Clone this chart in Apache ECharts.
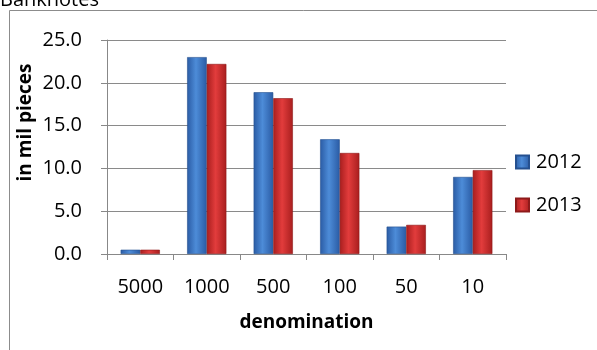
<!DOCTYPE html>
<html>
<head>
<meta charset="utf-8">
<script src="https://cdn.jsdelivr.net/npm/echarts@6/dist/echarts.min.js"></script>
<style>
  html, body { margin: 0; padding: 0; background: #fff; }
  #chart { width: 597px; height: 350px; }
</style>
</head>
<body>
<div id="chart"></div>
<script>
// Banknotes in circulation by denomination (million pieces)
const denominations = ['5000', '1000', '500', '100', '50', '10'];
const pieces2012 = [0.5, 23.0, 18.9, 13.4, 3.2, 9.0];
const pieces2013 = [0.5, 22.2, 18.2, 11.8, 3.4, 9.8];
const seriesNames = ['2012', '2013'];

const FONT = '"Open Sans", "Noto Sans", sans-serif';

function barGradient(edge, mid) {
  return new echarts.graphic.LinearGradient(0, 0, 1, 0, [
    { offset: 0, color: edge },
    { offset: 0.45, color: mid },
    { offset: 1, color: edge }
  ]);
}

const chart = echarts.init(document.getElementById('chart'), null, { renderer: 'canvas' });

chart.setOption({
  animation: false,
  backgroundColor: '#fff',
  textStyle: { fontFamily: FONT },
  graphic: [
    {
      type: 'rect',
      shape: { x: 9.5, y: 10.5, width: 620, height: 400 },
      style: { fill: 'none', stroke: '#8c8c8c', lineWidth: 1 },
      silent: true
    },
    {
      type: 'text',
      left: 0,
      top: -10,
      style: { text: 'Banknotes', font: '20px ' + FONT, fill: '#000' },
      silent: true
    }
  ],
  legend: {
    orient: 'vertical',
    left: 510,
    top: 147,
    itemWidth: 13,
    itemHeight: 13,
    itemGap: 23,
    icon: 'rect',
    textStyle: { fontSize: 20, color: '#000', fontFamily: FONT, padding: [0, 0, 0, 2] },
    data: seriesNames
  },
  grid: { left: 107, right: 91, top: 40, bottom: 96 },
  xAxis: {
    type: 'category',
    data: denominations,
    name: 'denomination',
    nameLocation: 'middle',
    nameGap: 59,
    nameMoveOverlap: false,
    nameTextStyle: { fontSize: 19, fontWeight: 'bold', color: '#000', fontFamily: FONT },
    axisLine: { lineStyle: { color: '#888' } },
    axisTick: { show: true, length: 6, lineStyle: { color: '#888' } },
    axisLabel: { fontSize: 20, color: '#000', margin: 23, fontFamily: FONT }
  },
  yAxis: {
    type: 'value',
    min: 0,
    max: 25,
    interval: 5,
    name: 'in mil pieces',
    nameLocation: 'middle',
    nameGap: 72,
    nameMoveOverlap: false,
    nameRotate: 90,
    nameTextStyle: {
      fontSize: 19, fontWeight: 'bold', color: '#000', fontFamily: FONT,
      padding: [0, 0, 0, 49]
    },
    axisLine: { show: true, lineStyle: { color: '#888' } },
    axisTick: { show: true, length: 6, inside: false, lineStyle: { color: '#888' } },
    axisLabel: {
      fontSize: 20, color: '#000', margin: 25, fontFamily: FONT,
      formatter: v => v.toFixed(1)
    },
    splitLine: { lineStyle: { color: '#8a8a8a', width: 1 } }
  },
  series: [
    {
      name: seriesNames[0],
      type: 'bar',
      data: pieces2012,
      barGap: '0%',
      barCategoryGap: '41%',
      itemStyle: {
        color: barGradient('#2a5ba4', '#4d8cd8'),
        borderColor: '#25508f',
        borderWidth: 0.6
      }
    },
    {
      name: seriesNames[1],
      type: 'bar',
      data: pieces2013,
      itemStyle: {
        color: barGradient('#a81e1e', '#e23c3c'),
        borderColor: '#8e1a1a',
        borderWidth: 0.6
      }
    }
  ]
});
</script>
</body>
</html>
